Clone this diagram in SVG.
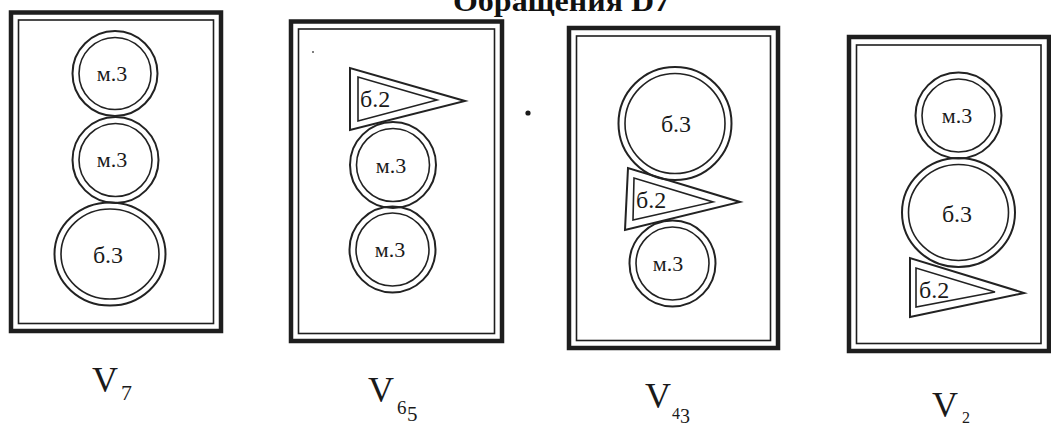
<svg xmlns="http://www.w3.org/2000/svg" width="1051" height="425" viewBox="0 0 1051 425">
<style>
  .frame-outer { fill: none; stroke: #1e1e1e; stroke-width: 4.5; }
  .frame-inner { fill: none; stroke: #1e1e1e; stroke-width: 1.6; }
  .ring-o { fill: none; stroke: #222; stroke-width: 2; }
  .ring-i { fill: none; stroke: #222; stroke-width: 1.6; }
  .tri-o { fill: none; stroke: #222; stroke-width: 2; }
  .tri-i { fill: none; stroke: #222; stroke-width: 1.6; }
  .lbl { font-family: "Liberation Serif", "Times New Roman", serif; fill: #1a1a1a; }
  .small { font-size: 22px; }
  .big { font-size: 24px; }
  .v { font-family: "Liberation Serif", "Times New Roman", serif; font-size: 36px; fill: #1a1a1a; }
  .sub { font-family: "Liberation Serif", "Times New Roman", serif; fill: #1a1a1a; }
  .title { font-family: "Liberation Serif", "Times New Roman", serif; font-weight: bold; font-size: 30px; fill: #111; }
</style>
<rect width="1051" height="425" fill="#ffffff"/>

<text class="title" x="453" y="11" textLength="217" lengthAdjust="spacingAndGlyphs">Обращения D7</text>

<g id="connectors"/>

<!-- Frame V7 -->
<g id="frame-v7">
  <rect class="frame-outer" x="11" y="12.5" width="210" height="318.5"/>
  <rect class="frame-inner" x="18.5" y="20" width="195" height="303.5"/>
  <g id="v7-m3-top">
    <circle class="ring-o" cx="115" cy="73.5" r="42.5"/>
    <circle class="ring-i" cx="115" cy="73.5" r="36"/>
    <text class="lbl small" x="112" y="81" text-anchor="middle">м.3</text>
  </g>
  <g id="v7-m3-mid">
    <circle class="ring-o" cx="115.5" cy="160" r="43"/>
    <circle class="ring-i" cx="115.5" cy="160" r="36.5"/>
    <text class="lbl small" x="112" y="167" text-anchor="middle">м.3</text>
  </g>
  <g id="v7-b3">
    <ellipse class="ring-o" cx="110" cy="254" rx="55.5" ry="51.5"/>
    <ellipse class="ring-i" cx="110" cy="254" rx="49" ry="45"/>
    <text class="lbl big" x="108" y="263" text-anchor="middle">б.3</text>
  </g>
</g>

<!-- Frame V65 -->
<g id="frame-v65">
  <rect class="frame-outer" x="291" y="21.5" width="211" height="319.5"/>
  <rect class="frame-inner" x="298.5" y="29" width="196" height="304.5"/>
  <g id="v65-b2">
    <polygon class="tri-o" points="350,68 350,130 465,101"/>
    <polygon class="tri-i" points="358,77 358,121 437,100"/>
    <text class="lbl big" x="360" y="107">б.2</text>
  </g>
  <g id="v65-m3-top">
    <circle class="ring-o" cx="393" cy="165" r="43"/>
    <circle class="ring-i" cx="393" cy="165" r="36.5"/>
    <text class="lbl small" x="391" y="173" text-anchor="middle">м.3</text>
  </g>
  <g id="v65-m3-bot">
    <circle class="ring-o" cx="392.5" cy="249.5" r="43"/>
    <circle class="ring-i" cx="392.5" cy="249.5" r="36.5"/>
    <text class="lbl small" x="390" y="257" text-anchor="middle">м.3</text>
  </g>
  <circle cx="313" cy="52" r="1" fill="#555"/>
</g>

<circle id="dot" cx="528" cy="113" r="2.6" fill="#1a1a1a"/>

<!-- Frame V43 -->
<g id="frame-v43">
  <rect class="frame-outer" x="569" y="28" width="209" height="320"/>
  <rect class="frame-inner" x="576.5" y="36" width="194" height="304.5"/>
  <g id="v43-b3">
    <circle class="ring-o" cx="675" cy="123.5" r="56.5"/>
    <circle class="ring-i" cx="675" cy="123.5" r="50"/>
    <text class="lbl big" x="676" y="132" text-anchor="middle">б.3</text>
  </g>
  <g id="v43-b2">
    <polygon class="tri-o" points="628,168 625,230 740,202"/>
    <polygon class="tri-i" points="634,178 633,220 713,202"/>
    <text class="lbl big" x="636" y="208">б.2</text>
  </g>
  <g id="v43-m3">
    <circle class="ring-o" cx="672.5" cy="263.5" r="43"/>
    <circle class="ring-i" cx="672.5" cy="263.5" r="36.5"/>
    <text class="lbl small" x="668" y="271" text-anchor="middle">м.3</text>
  </g>
</g>

<!-- Frame V2 -->
<g id="frame-v2">
  <rect class="frame-outer" x="849" y="37" width="200" height="314"/>
  <rect class="frame-inner" x="856.5" y="45" width="184.5" height="298.5"/>
  <g id="v2-m3">
    <circle class="ring-o" cx="958.5" cy="115.5" r="43"/>
    <circle class="ring-i" cx="958.5" cy="115.5" r="36.5"/>
    <text class="lbl small" x="957" y="123" text-anchor="middle">м.3</text>
  </g>
  <g id="v2-b3">
    <ellipse class="ring-o" cx="958.5" cy="212.5" rx="56.5" ry="54.5"/>
    <ellipse class="ring-i" cx="958.5" cy="212.5" rx="50" ry="48"/>
    <text class="lbl big" x="957" y="222" text-anchor="middle">б.3</text>
  </g>
  <g id="v2-b2">
    <polygon class="tri-o" points="910,258 910,317 1024,293"/>
    <polygon class="tri-i" points="916,268 916,307 995,292"/>
    <text class="lbl big" x="919" y="298">б.2</text>
  </g>
</g>

<!-- Labels -->
<g id="label-v7">
  <text class="v" x="92" y="392">V</text>
  <text class="sub" x="121" y="400" font-size="22">7</text>
</g>
<g id="label-v65">
  <text class="v" x="368" y="402">V</text>
  <text class="sub" x="397" y="414" font-size="19">6</text>
  <text class="sub" x="407" y="421" font-size="21">5</text>
</g>
<g id="label-v43">
  <text class="v" x="645" y="408">V</text>
  <text class="sub" x="672" y="419" font-size="16">4</text>
  <text class="sub" x="680" y="423" font-size="20">3</text>
</g>
<g id="label-v2">
  <text class="v" x="932" y="417">V</text>
  <text class="sub" x="962" y="423" font-size="16">2</text>
</g>
</svg>
